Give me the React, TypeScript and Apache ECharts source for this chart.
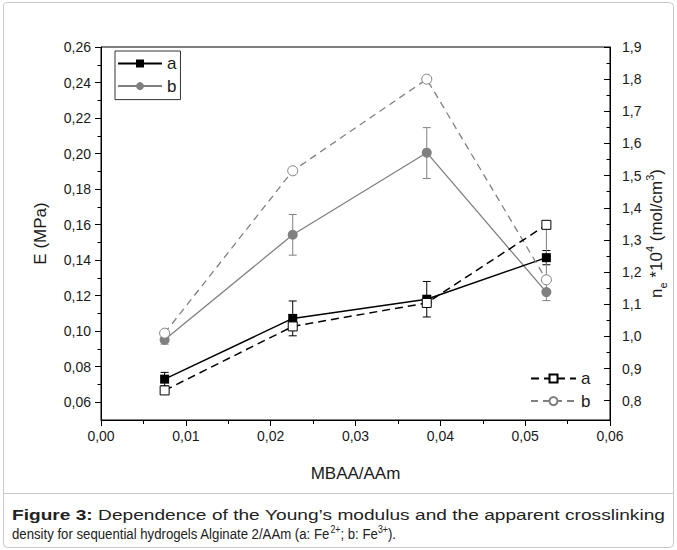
import React, { useEffect, useRef } from 'react';
import * as echarts from 'echarts';

// MBAA/AAm ratio
const xValues = [0.0075, 0.0226, 0.0384, 0.0525];
// Young's modulus E (MPa), left axis
const eA = [0.073, 0.1072, 0.118, 0.1414];
const eALow = [0.0692, 0.0974, 0.108, 0.1374];
const eAHigh = [0.0768, 0.117, 0.128, 0.1454];
const eB = [0.0952, 0.1543, 0.2005, 0.122];
const eBLow = [0.0927, 0.1428, 0.186, 0.1172];
const eBHigh = [0.0977, 0.1657, 0.2146, 0.16];
// crosslinking density ne*10^4 (mol/cm3), right axis
const neA = [0.832, 1.031, 1.104, 1.347];
const neB = [1.01, 1.515, 1.8, 1.176];

const leftTicks = [0.06, 0.08, 0.1, 0.12, 0.14, 0.16, 0.18, 0.2, 0.22, 0.24, 0.26];
const leftMinor = [0.07, 0.09, 0.11, 0.13, 0.15, 0.17, 0.19, 0.21, 0.23, 0.25];
const rightTicks = [0.8, 0.9, 1.0, 1.1, 1.2, 1.3, 1.4, 1.5, 1.6, 1.7, 1.8, 1.9];
const rightMinor = [0.85, 0.95, 1.05, 1.15, 1.25, 1.35, 1.45, 1.55, 1.65, 1.75, 1.85];

const FONT = "'Liberation Sans', Arial, sans-serif";
const TXT = '#1a1a1a';

const captionLine1 = ['Figure 3:', 'Dependence', 'of', 'the', 'Young\u2019s', 'modulus', 'and', 'the', 'apparent', 'crosslinking'];
const captionLine2 = [
  { t: 'density for sequential hydrogels Alginate 2/AAm (a: Fe', sup: false },
  { t: '2+', sup: true },
  { t: '; b: Fe', sup: false },
  { t: '3+', sup: true },
  { t: ').', sup: false },
];

function fmt(v: number, d: number) {
  return v.toFixed(d).replace('.', ',');
}

function errorSeries(name: string, yIdx: number, lows: number[], highs: number[], color: string) {
  return {
    type: 'custom',
    name,
    yAxisIndex: yIdx,
    z: 1,
    silent: true,
    data: xValues.map((x, i) => [x, lows[i], highs[i]]),
    encode: { x: 0, y: [1, 2] },
    renderItem: (params: any, api: any) => {
      const x = api.value(0);
      const lo = api.coord([x, api.value(1)]);
      const hi = api.coord([x, api.value(2)]);
      const w = 4;
      const st = { stroke: color, lineWidth: 1 };
      return {
        type: 'group',
        children: [
          { type: 'line', shape: { x1: lo[0], y1: lo[1], x2: hi[0], y2: hi[1] }, style: st },
          { type: 'line', shape: { x1: lo[0] - w, y1: lo[1], x2: lo[0] + w, y2: lo[1] }, style: st },
          { type: 'line', shape: { x1: hi[0] - w, y1: hi[1], x2: hi[0] + w, y2: hi[1] }, style: st },
        ],
      };
    },
  };
}

export default function App() {
  const ref = useRef<HTMLDivElement>(null);

  useEffect(() => {
    if (!ref.current) return;
    const chart = echarts.init(ref.current, undefined, { renderer: 'svg' });

    // caption layout measurement
    const ctx = document.createElement('canvas').getContext('2d')!;
    const mw = (t: string, f: string) => {
      ctx.font = f;
      return ctx.measureText(t).width;
    };
    const normalFont = `15px ${FONT}`;
    const boldFont = `bold 15px ${FONT}`;
    const supFont = `10px ${FONT}`;
    let w2 = 0;
    captionLine2.forEach((p) => (w2 += mw(p.t, p.sup ? supFont : normalFont)));
    const capLeft = 12;
    const scale = 384 / w2;
    const nat = captionLine1.map((t, i) => mw(t, i === 0 ? boldFont : normalFont));
    const spaceW = mw(' ', normalFont);
    const natTotal = nat.reduce((a, b) => a + b, 0) + spaceW * (captionLine1.length - 1);
    const k = (665 - capLeft) / natTotal; // line 1 is justified / stretched
    let cx = capLeft;
    const line1Els: any[] = captionLine1.map((t, i) => {
      const el = {
        type: 'text',
        x: cx,
        y: 515,
        scaleX: k,
        style: {
          text: t,
          x: 0,
          y: 0,
          fill: '#222',
          font: i === 0 ? boldFont : normalFont,
          verticalAlign: 'middle',
        },
      };
      cx += (nat[i] + spaceW) * k;
      return el;
    });
    const line2Text = captionLine2.map((p) => `{${p.sup ? 's' : 'n'}|${p.t}}`).join('');

    const option: any = {
      animation: false,
      backgroundColor: '#fff',
      grid: {
        left: 101,
        right: 67,
        top: 47,
        bottom: 130,
        show: true,
        borderColor: '#000',
        borderWidth: 1,
        backgroundColor: 'transparent',
        containLabel: false,
        outerBoundsMode: 'none',
      },
      legend: [
        {
          data: ['a', 'b'],
          orient: 'vertical',
          left: 115,
          top: 51,
          padding: [4, 4, 5, 2],
          itemWidth: 44,
          itemHeight: 10,
          itemGap: 5.6,
          borderColor: '#333',
          borderWidth: 1,
          formatter: (n: string) => n.charAt(0),
          textStyle: { fontFamily: FONT, fontSize: 17, color: TXT },
          selectedMode: false,
        },
        {
          data: ['a2', 'b2'],
          orient: 'vertical',
          left: 528,
          top: 366,
          padding: [4, 2, 4, 2],
          itemWidth: 45,
          itemHeight: 10,
          itemGap: 5.6,
          formatter: (n: string) => n.charAt(0),
          textStyle: { fontFamily: FONT, fontSize: 17, color: TXT },
          selectedMode: false,
        },
      ],
      xAxis: {
        type: 'value',
        min: 0,
        max: 0.06,
        interval: 0.01,
        name: 'MBAA/AAm',
        nameLocation: 'middle',
        nameGap: 45,
        nameTextStyle: { fontFamily: FONT, fontSize: 17, color: TXT },
        axisLine: { lineStyle: { color: '#000', width: 1 } },
        axisTick: { show: true, length: 6, lineStyle: { color: '#000' } },
        minorTick: { show: true, splitNumber: 2, length: 4, lineStyle: { color: '#000' } },
        splitLine: { show: false },
        axisLabel: {
          formatter: (v: number) => fmt(v, 2),
          fontFamily: FONT,
          fontSize: 14,
          color: TXT,
          margin: 9,
        },
      },
      yAxis: [
        {
          type: 'value',
          position: 'left',
          min: 0.05,
          max: 0.26,
          name: 'E (MPa)',
          nameLocation: 'middle',
          nameGap: 52,
          nameRotate: 90,
          nameTextStyle: { fontFamily: FONT, fontSize: 17, color: TXT },
          axisLine: { show: true, lineStyle: { color: '#000', width: 1 } },
          axisTick: { show: true, length: 6, customValues: leftTicks, lineStyle: { color: '#000' } },
          splitLine: { show: false },
          axisLabel: {
            customValues: leftTicks,
            formatter: (v: number) => fmt(v, 2),
            fontFamily: FONT,
            fontSize: 14,
            color: TXT,
            margin: 10,
          },
        },
        {
          type: 'value',
          position: 'left',
          offset: 0,
          min: 0.05,
          max: 0.26,
          axisLine: { show: false },
          axisTick: { show: true, length: 3.5, customValues: leftMinor, lineStyle: { color: '#000' } },
          axisLabel: { show: false },
          splitLine: { show: false },
        },
        {
          type: 'value',
          position: 'right',
          offset: 0,
          min: 0.74,
          max: 1.9,
          name: '{a|n}{s|e}{a| *10}{p|4}{a| (mol/cm}{p|3}{a|)}',
          nameLocation: 'middle',
          nameGap: 34,
          nameRotate: 90,
          nameMoveOverlap: false,
          nameTextStyle: {
            fontFamily: FONT,
            fontSize: 17,
            color: TXT,
            rich: {
              a: { fontFamily: FONT, fontSize: 17, color: TXT, lineHeight: 24, verticalAlign: 'middle' },
              s: { fontFamily: FONT, fontSize: 11, color: TXT, lineHeight: 15, verticalAlign: 'bottom' },
              p: { fontFamily: FONT, fontSize: 11, color: TXT, lineHeight: 12, verticalAlign: 'top' },
            },
          },
          axisLine: { show: true, lineStyle: { color: '#000', width: 1 } },
          axisTick: { show: true, inside: true, length: 6, customValues: rightTicks, lineStyle: { color: '#000' } },
          splitLine: { show: false },
          axisLabel: {
            customValues: rightTicks,
            formatter: (v: number) => fmt(v, 1),
            fontFamily: FONT,
            fontSize: 14,
            color: TXT,
            margin: 12,
          },
        },
        {
          type: 'value',
          position: 'right',
          offset: 0,
          min: 0.74,
          max: 1.9,
          axisLine: { show: false },
          axisTick: { show: true, inside: true, length: 3.5, customValues: rightMinor, lineStyle: { color: '#000' } },
          axisLabel: { show: false },
          splitLine: { show: false },
        },
      ],
      series: [
        errorSeries('errA', 0, eALow, eAHigh, '#000'),
        errorSeries('errB', 0, eBLow, eBHigh, '#808080'),
        {
          name: 'b',
          type: 'line',
          yAxisIndex: 0,
          z: 3,
          data: xValues.map((x, i) => [x, eB[i]]),
          symbol: 'circle',
          symbolSize: 10,
          itemStyle: { color: '#808080' },
          lineStyle: { color: '#808080', width: 1.3 },
        },
        {
          name: 'a',
          type: 'line',
          yAxisIndex: 0,
          z: 4,
          data: xValues.map((x, i) => [x, eA[i]]),
          symbol: 'rect',
          symbolSize: 9,
          itemStyle: { color: '#000' },
          lineStyle: { color: '#000', width: 1.5 },
        },
        {
          name: 'b2',
          type: 'line',
          yAxisIndex: 2,
          z: 5,
          data: xValues.map((x, i) => [x, neB[i]]),
          symbol: 'circle',
          symbolSize: 10,
          itemStyle: { color: '#fff', borderColor: '#808080', borderWidth: 1 },
          lineStyle: { color: '#808080', width: 1.3, type: [7, 5] },
        },
        {
          name: 'a2',
          type: 'line',
          yAxisIndex: 2,
          z: 6,
          data: xValues.map((x, i) => [x, neA[i]]),
          symbol: 'rect',
          symbolSize: 9,
          itemStyle: { color: '#fff', borderColor: '#000', borderWidth: 1 },
          lineStyle: { color: '#000', width: 1.5, type: [8, 5] },
        },
      ],
      graphic: [
        {
          type: 'rect',
          shape: { x: 3.5, y: 2.5, width: 670, height: 545, r: 4 },
          style: { fill: 'none', stroke: '#c8c8c8', lineWidth: 1 },
          silent: true,
          z: -10,
        },
        {
          type: 'line',
          shape: { x1: 3.5, y1: 493.5, x2: 673.5, y2: 493.5 },
          style: { stroke: '#c8c8c8', lineWidth: 1 },
          silent: true,
        },
        ...line1Els,
        {
          type: 'text',
          x: capLeft,
          y: 534,
          scaleX: scale,
          style: {
            text: line2Text,
            x: 0,
            y: 0,
            verticalAlign: 'middle',
            rich: {
              n: { font: normalFont, fill: '#222', lineHeight: 20, verticalAlign: 'middle' },
              s: { font: supFont, fill: '#222', lineHeight: 10, verticalAlign: 'top' },
            },
          },
        },
      ],
    };

    chart.setOption(option);
    return () => chart.dispose();
  }, []);

  return (
    <div
      ref={ref}
      style={{ position: 'absolute', left: 0, top: 0, width: 677, height: 550, background: '#fff' }}
    />
  );
}
